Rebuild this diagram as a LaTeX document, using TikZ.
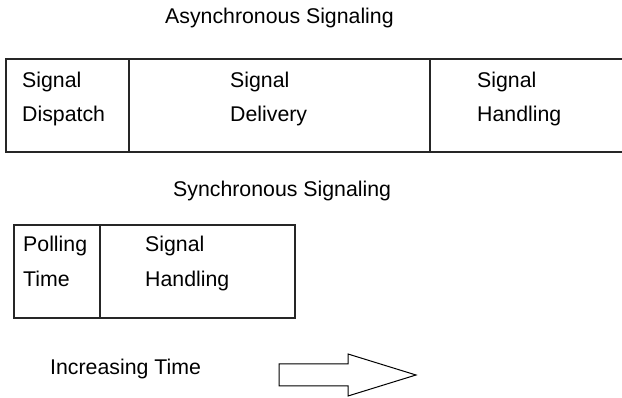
\documentclass[tikz,border=0pt]{standalone}
\usepackage{fontspec}
\setmainfont{Liberation Sans}
\begin{document}
\begin{tikzpicture}[x=1pt,y=-1pt,
  frame/.style={draw=black!85,line width=1.2pt},
  label/.style={anchor=base west,inner sep=0pt,font=\fontsize{21.3}{34}\selectfont},
  cell/.style={label,align=left}]
\useasboundingbox (0,0) rectangle (622,398);

% titles
\node[label] (async) at (165,24) {Asynchronous Signaling};
\node[label] (sync)  at (173,197) {Synchronous Signaling};

% asynchronous row: dispatch | delivery | handling (runs off the right edge)
\draw[frame] (622,59) -- (6,59) -- (6,152) -- (622,152);
\draw[frame] (129,59) -- (129,152);
\draw[frame] (430,59) -- (430,152);
\node[label] (dispA) at (22,88)  {Signal};
\node[label] (dispB) at (22,122) {Dispatch};
\node[label] (delA)  at (230,88)  {Signal};
\node[label] (delB)  at (230,122) {Delivery};
\node[label] (hanA)  at (477,88)  {Signal};
\node[label] (hanB)  at (477,122) {Handling};

% synchronous row: polling | handling
\draw[frame] (14,225) rectangle (295,318);
\draw[frame] (100,225) -- (100,318);
\node[label] (polA) at (23,252) {Polling};
\node[label] (polB) at (23,287) {Time};
\node[label] (shA)  at (145,252) {Signal};
\node[label] (shB)  at (145,287) {Handling};

% time axis
\node[label] (inc) at (50,375) {Increasing Time};
\draw[line width=1pt,fill=white] (279,364) -- (348,364) -- (348,354) -- (416,375)
  -- (348,396) -- (348,386) -- (279,386) -- cycle;
\end{tikzpicture}
\end{document}
